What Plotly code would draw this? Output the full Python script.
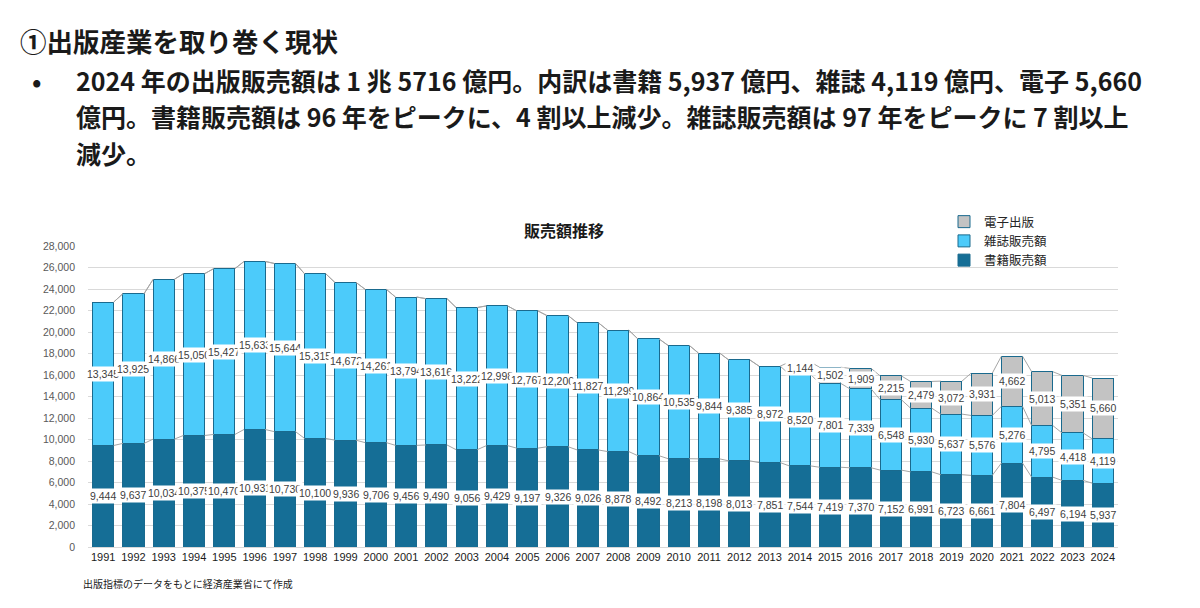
import plotly.graph_objects as go

years = list(range(1991, 2025))
books = [9444, 9637, 10034, 10375, 10470, 10931, 10730, 10100, 9936, 9706,
         9456, 9490, 9056, 9429, 9197, 9326, 9026, 8878, 8492, 8213,
         8198, 8013, 7851, 7544, 7419, 7370, 7152, 6991, 6723, 6661,
         7804, 6497, 6194, 5937]
magazines = [13345, 13925, 14866, 15050, 15427, 15633, 15644, 15315, 14672, 14261,
             13794, 13616, 13222, 12998, 12767, 12200, 11827, 11299, 10864, 10535,
             9844, 9385, 8972, 8520, 7801, 7339, 6548, 5930, 5637, 5576,
             5276, 4795, 4418, 4119]
digital = [0, 0, 0, 0, 0, 0, 0, 0, 0, 0,
           0, 0, 0, 0, 0, 0, 0, 0, 0, 0,
           0, 0, 0, 1144, 1502, 1909, 2215, 2479, 3072, 3931,
           4662, 5013, 5351, 5660]
series_names = ["書籍販売額", "雑誌販売額", "電子出版"]
y_ticks = list(range(0, 28001, 2000))

colors = ["#156e96", "#4ccbfa", "#c3c3c3"]
edge = "#1a6a8e"
bar_w = 0.7

fig = go.Figure()
series = [books, magazines, digital]
for name, vals, col in zip(series_names, series, colors):
    fig.add_trace(go.Bar(x=years, y=vals, name=name, width=bar_w,
                         marker=dict(color=col, line=dict(color=edge, width=1))))

# cumulative tops
tops = []
run = [0] * len(years)
for vals in series:
    run = [a + b for a, b in zip(run, vals)]
    tops.append(run)

# series lines
for top in tops:
    xs, ys = [], []
    for i in range(len(years) - 1):
        xs += [years[i] + bar_w / 2, years[i + 1] - bar_w / 2, None]
        ys += [top[i], top[i + 1], None]
    fig.add_trace(go.Scatter(x=xs, y=ys, mode="lines", showlegend=False,
                             hoverinfo="skip",
                             line=dict(color="#a6a6a6", width=1)))

annotations = []
base = [0] * len(years)
for vals in series:
    for i, v in enumerate(vals):
        if v > 0:
            annotations.append(dict(
                x=years[i], y=base[i] + v / 2, xref="x", yref="y",
                text=f"{v:,}", showarrow=False, bgcolor="white",
                borderpad=1,
                font=dict(size=10.5, color="#404040", family="Liberation Sans, Arial")))
    base = [a + b for a, b in zip(base, vals)]

OFF = 8  # page body offset
cjk = "Noto Sans CJK JP"
page_texts = [
    dict(text="<b>①出版産業を取り巻く現状</b>", x=18, y=40, xanchor="left", size=26.5),
    dict(text="<b>•</b>", x=30, y=80, xanchor="left", size=25),
    dict(text="<b>2024 年の出版販売額は 1 兆 5716 億円。内訳は書籍 5,937 億円、雑誌 4,119 億円、電子 5,660</b>",
         x=74, y=80, xanchor="left", size=25),
    dict(text="<b>億円。書籍販売額は 96 年をピークに、4 割以上減少。雑誌販売額は 97 年をピークに 7 割以上</b>",
         x=74, y=116, xanchor="left", size=25),
    dict(text="<b>減少。</b>", x=74, y=153, xanchor="left", size=25),
    dict(text="<b>販売額推移</b>", x=564, y=230, xanchor="center", size=16),
    dict(text="出版指標のデータをもとに経済産業省にて作成", x=81, y=583, xanchor="left", size=10),
]

# plot area in page pixels: x 88..1118, y 246..547
W, H = 1200, 608
L = 88 - OFF
T = 246 - OFF
R = W - (1118 - OFF)
B = H - (547 - OFF)
pw, ph = W - L - R, H - T - B

for p in page_texts:
    annotations.append(dict(
        text=p["text"], xref="paper", yref="paper",
        x=(p["x"] - OFF - L) / pw, y=(H - B - (p["y"] - OFF)) / ph,
        showarrow=False, xanchor=p["xanchor"], yanchor="middle",
        font=dict(size=p["size"], color="#1a1a1a", family=cjk)))

fig.update_layout(
    width=W, height=H,
    margin=dict(l=L, r=R, t=T, b=B),
    barmode="stack",
    plot_bgcolor="white", paper_bgcolor="white",
    annotations=annotations,
    font=dict(family=cjk),
    legend=dict(x=(944 - OFF - L) / pw, y=(H - B - (207 - OFF)) / ph,
                xanchor="left", yanchor="top",
                traceorder="reversed", font=dict(size=12.5, color="#262626"),
                bgcolor="rgba(0,0,0,0)", itemclick=False, tracegroupgap=0),
    xaxis=dict(range=[1990.5, 2024.5], tickmode="array", tickvals=years,
               ticktext=[str(y) for y in years], showgrid=False,
               showline=True, linecolor="#d9d9d9", linewidth=1,
               ticks="", tickfont=dict(size=11, color="#1a1a1a", family="Liberation Sans, Arial"),
               fixedrange=True),
    yaxis=dict(range=[0, 28000], tickmode="array", tickvals=y_ticks,
               ticktext=[f"{v:,}" for v in y_ticks], showgrid=True,
               gridcolor="#d9d9d9", gridwidth=1, zeroline=False,
               ticks="", ticklabelstandoff=12,
               tickfont=dict(size=10.5, color="#595959", family="Liberation Sans, Arial"),
               fixedrange=True),
    showlegend=True,
)

fig.write_html("out.html")
